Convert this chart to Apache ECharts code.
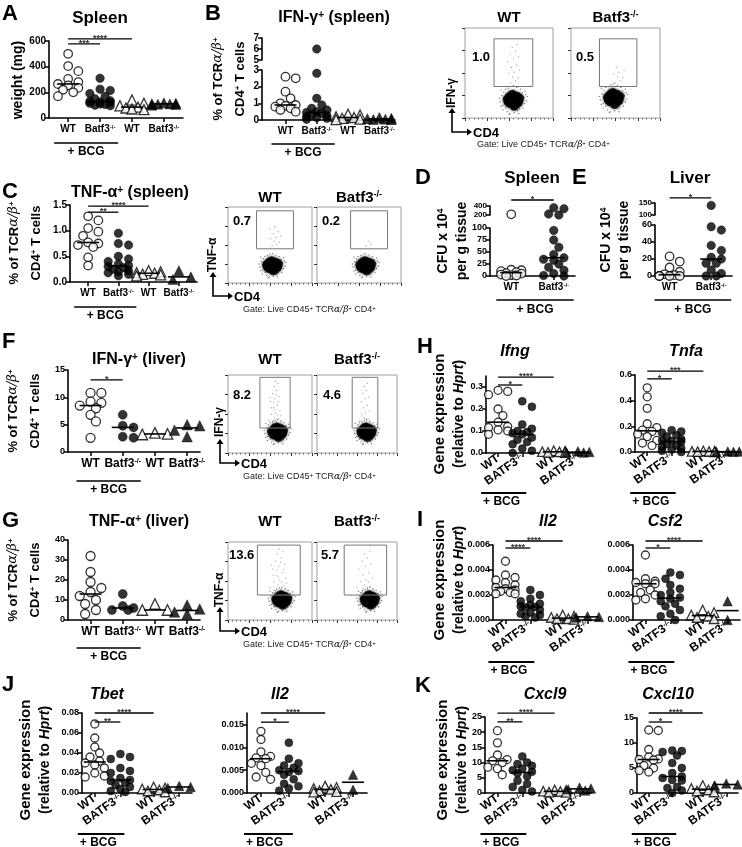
<!DOCTYPE html>
<html><head><meta charset="utf-8">
<script src="https://cdn.jsdelivr.net/npm/echarts@6.0.0/dist/echarts.min.js"></script>
<style>html,body{margin:0;padding:0;background:#fff;}#chart{width:742px;height:847px;}</style>
</head><body><div id="chart"></div>
<script>
// ================= DATA =================
const groupLabels = ['WT', 'Batf3-/-', 'WT', 'Batf3-/-'];
const geneGroupLabels = ['WT', 'BATF3-/-', 'WT', 'BATF3-/-'];
const cfuGroupLabels = ['WT', 'Batf3-/-'];

// A: spleen weight (mg)
const weightWT_BCG = [500, 405, 365, 305, 280, 265, 255, 235, 220, 200, 170];
const weightKO_BCG = [310, 225, 215, 190, 170, 150, 135, 130, 125, 120, 115, 110, 105, 100, 95];
const weightWT_naive = [140, 115, 95, 85, 78, 70, 65];
const weightKO_naive = [118, 115, 112, 110, 108, 105, 100];
// B: IFN-g+ spleen (%)
const ifngSpleenWT_BCG = [2.6, 2.5, 1.7, 1.3, 1.0, 0.9, 0.85, 0.8, 0.7, 0.6, 0.5];
const ifngSpleenKO_BCG = [6.0, 2.8, 1.3, 0.9, 0.7, 0.6, 0.5, 0.45, 0.4, 0.3, 0.25, 0.2, 0.15, 0.1, 0.05];
const ifngSpleenWT_naive = [0.35, 0.3, 0.2, 0.15, 0.1, 0.05, 0.02];
const ifngSpleenKO_naive = [0.15, 0.1, 0.08, 0.05, 0.03, 0.02];
// C: TNF-a+ spleen (%)
const tnfSpleenWT_BCG = [1.28, 1.2, 1.05, 0.98, 0.9, 0.77, 0.75, 0.72, 0.68, 0.48, 0.32];
const tnfSpleenKO_BCG = [0.95, 0.75, 0.72, 0.5, 0.45, 0.4, 0.35, 0.32, 0.3, 0.28, 0.25, 0.22, 0.2, 0.18, 0.15, 0.12];
const tnfSpleenWT_naive = [0.22, 0.2, 0.18, 0.17, 0.15, 0.14, 0.12];
const tnfSpleenKO_naive = [0.22, 0.1, 0.05];
// D, E: CFU x 10^4 per g tissue
const cfuSpleenWT = [215, 195, 13, 12, 10, 8, 6, 5, 3, 2, 1, 0];
const cfuSpleenKO = [360, 340, 220, 200, 95, 75, 60, 45, 38, 35, 33, 25, 18, 12, 5, 1, 0];
const cfuLiverWT = [23, 17, 10, 5, 2, 1, 0, 0, 0, 0];
const cfuLiverKO = [140, 58, 54, 36, 30, 22, 20, 15, 15, 7, 3, 0, 0];
// F: IFN-g+ liver (%)
const ifngLiverWT_BCG = [10.8, 10.8, 9.2, 9.0, 8.5, 8.0, 6.8, 5.6, 2.6];
const ifngLiverKO_BCG = [6.8, 4.8, 4.5, 2.8, 2.6];
const ifngLiverWT_naive = [3.5, 3.3, 3.2];
const ifngLiverKO_naive = [5.0, 4.8, 4.0, 2.8];
// G: TNF-a+ liver (%)
const tnfLiverWT_BCG = [32, 24, 19, 16, 14, 12, 10, 8, 5, 3];
const tnfLiverKO_BCG = [13, 7, 6, 5, 5];
const tnfLiverWT_naive = [8, 5, 5];
const tnfLiverKO_naive = [7.5, 5.5, 4, 3];
// H: Ifng, Tnfa
const ifngWT_BCG = [0.285, 0.28, 0.265, 0.2, 0.17, 0.14, 0.12, 0.115, 0.105, 0.1, 0.085];
const ifngKO_BCG = [0.235, 0.21, 0.13, 0.11, 0.1, 0.095, 0.09, 0.085, 0.07, 0.06, 0.05, 0.04, 0.02, 0.01, 0.0];
const ifngWT_naive = [0.01, 0.008, 0.006, 0.005, 0.003, 0.002];
const ifngKO_naive = [0.008, 0.005, 0.003, 0.002];
const tnfaWT_BCG = [0.5, 0.43, 0.34, 0.22, 0.19, 0.17, 0.16, 0.14, 0.12, 0.09, 0.07, 0.05];
const tnfaKO_BCG = [0.17, 0.16, 0.15, 0.13, 0.12, 0.1, 0.09, 0.085, 0.08, 0.06, 0.05, 0.04, 0.03, 0.02, 0.01, 0.0];
const tnfaWT_naive = [0.008, 0.006, 0.005, 0.004, 0.003, 0.002];
const tnfaKO_naive = [0.004, 0.003, 0.002, 0.001];
// I: Il2, Csf2
const il2WT_BCG = [0.0047, 0.0036, 0.0034, 0.0032, 0.003, 0.0028, 0.0026, 0.0025, 0.0024, 0.0023, 0.0022, 0.0021, 0.0021];
const il2KO_BCG = [0.0024, 0.002, 0.0017, 0.0015, 0.0013, 0.0012, 0.0011, 0.00105, 0.001, 0.0008, 0.0006, 0.0005, 0.0004, 0.0003, 0.0002];
const il2WT_naive = [0.0004, 0.0003, 0.0002, 0.0001, 0.00005, 0.0001];
const il2KO_naive = [0.0003, 0.00025, 0.0002];
const csf2WT_BCG = [0.0052, 0.0033, 0.0031, 0.003, 0.0029, 0.0029, 0.0024, 0.0022, 0.002, 0.0017, 0.0016];
const csf2KO_BCG = [0.0038, 0.0036, 0.0033, 0.0028, 0.0025, 0.0022, 0.002, 0.0018, 0.0017, 0.0015, 0.0013, 0.0011, 0.0008, 0.0005, 0.0003, 0.0];
const csf2WT_naive = [0.0008, 0.0006, 0.0004, 0.0003, 0.0002, 0.0001];
const csf2KO_naive = [0.0015, 0.0];
// J: Tbet, Il2
const tbetWT_BCG = [0.069, 0.055, 0.046, 0.04, 0.036, 0.032, 0.03, 0.028, 0.025, 0.02, 0.017, 0.016];
const tbetKO_BCG = [0.039, 0.036, 0.034, 0.025, 0.022, 0.02, 0.015, 0.013, 0.012, 0.01, 0.008, 0.006, 0.004, 0.002, 0.001];
const tbetWT_naive = [0.006, 0.005, 0.004, 0.003, 0.002, 0.001];
const tbetKO_naive = [0.007, 0.006, 0.005];
const il2bWT_BCG = [0.0135, 0.0117, 0.009, 0.008, 0.0077, 0.0075, 0.0065, 0.006, 0.0045, 0.0035, 0.003];
const il2bKO_BCG = [0.011, 0.0075, 0.0065, 0.006, 0.0055, 0.005, 0.0048, 0.0046, 0.004, 0.003, 0.002, 0.0015, 0.001, 0.0005];
const il2bWT_naive = [0.0015, 0.0012, 0.001, 0.0008, 0.0005, 0.0003, 0.0002];
const il2bKO_naive = [0.004, 0.0007];
// K: Cxcl9, Cxcl10
const cxcl9WT_BCG = [20.5, 16.5, 12.5, 11, 10.6, 10, 8.5, 8, 6];
const cxcl9KO_BCG = [12, 10, 9.5, 9, 8, 7.5, 7, 6.5, 5.5, 4, 3, 2, 1, 0.5];
const cxcl9WT_naive = [1.0, 0.8, 0.6, 0.5, 0.3, 0.2];
const cxcl9KO_naive = [1.8, 1.5, 1.2, 0.8];
const cxcl10WT_BCG = [12.6, 12.5, 8.7, 7.2, 6.8, 6.7, 6.6, 5.5, 5, 4.5, 4.2];
const cxcl10KO_BCG = [8.5, 8.4, 8.2, 7.5, 6, 5, 4, 3.3, 3, 2.6, 2.5, 1.2, 1, 0.5, 0];
const cxcl10WT_naive = [1.5, 1.2, 0.9, 0.6, 0.4, 0.2];
const cxcl10KO_naive = [1.9, 1.7, 1.5];

// Flow cytometry: gate percentages and representative events
const flowPctIFNspleen = ['1.0', '0.5'];
const flowPctTNFspleen = ['0.7', '0.2'];
const flowPctIFNliver = ['8.2', '4.6'];
const flowPctTNFliver = ['13.6', '5.7'];
const flowCoreEvents = [[0,0],[-3,-2],[3,2],[-2,3],[2,-3],[-5,0],[5,1],[0,5],[1,-5],[-4,-4],[4,4],[-4,4],[4,-4],[-6,-2],[6,-2],[-1,6],[1,-7],[-7,1],[7,2]];
const flowHaloEvents = [[-16,2],[-14,-7],[-13,5],[-12,-11],[-11,9],[-10,-3],[-9,12],[-9,-9],[-8,6],[-7,-13],[-6,13],[-6,-7],[-5,10],[-4,-15],[-3,15],[-2,-10],[-1,11],[0,16],[1,-14],[2,9],[3,-9],[4,14],[5,-12],[6,8],[7,-10],[8,12],[9,-6],[10,8],[11,-9],[12,3],[13,-4],[14,6],[15,-1],[-15,-2],[10,-1],[-11,1],[8,-3],[-8,2],[0,-9],[2,7],[-3,-6],[5,5],[-12,-6],[13,10],[-5,-16],[16,4],[6,-15],[-14,11]];
const flowGateEvents = [[0.42,0.08],[0.55,0.12],[0.48,0.2],[0.62,0.18],[0.38,0.27],[0.52,0.3],[0.66,0.34],[0.45,0.4],[0.58,0.45],[0.35,0.52],[0.5,0.58],[0.63,0.62],[0.42,0.68],[0.55,0.74],[0.47,0.82],[0.6,0.88],[0.3,0.15],[0.7,0.1],[0.4,0.05],[0.53,0.04],[0.57,0.26],[0.44,0.14],[0.49,0.36],[0.61,0.52],[0.37,0.4],[0.54,0.66],[0.46,0.5],[0.68,0.24],[0.33,0.6],[0.51,0.92]];

// ================= BUILD =================
const FONT = '"Liberation Sans", Arial, Helvetica, sans-serif';
const SERIF = '"DejaVu Serif", "Liberation Serif", serif';
const grid = [], xAxis = [], yAxis = [], series = [], graphic = [];

const OPEN_C = {symbol:'circle', itemStyle:{color:'#fff', borderColor:'#000', borderWidth:1.3}};
const FILL_C = {symbol:'circle', itemStyle:{color:'#000', borderColor:'#000', borderWidth:0.5}};
const OPEN_T = {symbol:'triangle', itemStyle:{color:'#fff', borderColor:'#000', borderWidth:1.3}};
const FILL_T = {symbol:'triangle', itemStyle:{color:'#000', borderColor:'#000', borderWidth:0.5}};
const STY4 = [OPEN_C, FILL_C, OPEN_T, FILL_T];

function median(a){const s=[...a].sort((x,y)=>x-y);const n=s.length;return n%2?s[(n-1)/2]:(s[n/2-1]+s[n/2])/2;}

function richSet(size, weight){
  const w = weight || 'bold';
  const sup = Math.max(6, Math.round(size*0.62));
  return {
    s:{fontSize:sup, fontWeight:w, fontFamily:FONT, fontStyle:'normal', verticalAlign:'top', fill:'#000', color:'#000'},
    g:{fontSize:size, fontWeight:'normal', fontFamily:SERIF, fontStyle:'italic', fill:'#000', color:'#000'},
    i:{fontSize:size, fontWeight:w, fontFamily:FONT, fontStyle:'italic', fill:'#000', color:'#000'}
  };
}
function txt(x, y, text, o){
  o = o || {};
  const size = o.size || 12, weight = o.weight || 'bold';
  graphic.push({type:'text', x:x, y:y, rotation:o.rot||0, z:100, silent:true,
    style:{text:text, fill:o.color||'#000', fontSize:size, fontWeight:weight, fontFamily:FONT,
      fontStyle:o.italic?'italic':'normal', align:o.align||'center', verticalAlign:o.va||'middle', rich:richSet(size, weight)}});
}
function gline(x1, y1, x2, y2, w){
  graphic.push({type:'line', silent:true, z:100, shape:{x1:x1, y1:y1, x2:x2, y2:y2}, style:{stroke:'#000', lineWidth:w||1.5}});
}
function supLabel(s){ return s.replace('-/-', '{s|-/-}'); }

function swarm(pys, size, maxOff){
  const n = pys.length, order = [...Array(n).keys()].sort((a,b)=>pys[b]-pys[a]);
  const placed = [], offs = new Array(n).fill(0), step = size*0.6, minD = size*0.92;
  for (const i of order){
    let best = 0, bestOv = Infinity;
    for (let k=0; k<40; k++){
      const o = (k===0 ? 0 : (k%2 ? 1 : -1)*Math.ceil(k/2))*step;
      if (Math.abs(o) > maxOff) break;
      let ov = 0;
      for (const q of placed){ const d = Math.hypot(q[0]-o, q[1]-pys[i]); if (d < minD) ov += minD-d; }
      if (ov < bestOv - 1e-9){ bestOv = ov; best = o; }
      if (ov === 0) break;
    }
    placed.push([best, pys[i]]); offs[i] = best;
  }
  return offs;
}

function xCfg(idx, x, show){
  const fs = x.fs || 10;
  return {gridIndex:idx, type:'value', min:x.min, max:x.max,
    axisLine:{show:show, onZero:false, lineStyle:{color:'#000', width:1.6}},
    axisTick:{show:show, customValues:x.pos, length:4, lineStyle:{color:'#000', width:1.5}},
    axisLabel:{show:show, customValues:x.pos, rotate:x.rotate||0, margin:x.margin||6, color:'#000',
      fontFamily:FONT, fontWeight:'bold', fontSize:fs,
      rich:{s:{fontSize:Math.round(fs*0.62), fontWeight:'bold', fontFamily:FONT, color:'#000', verticalAlign:'top'}},
      formatter:(v)=>{const k=x.pos.findIndex(p=>Math.abs(p-v)<1e-6); return k<0?'':supLabel(x.labels[k]);}},
    splitLine:{show:false}};
}
function yCfg(idx, y){
  const o = {gridIndex:idx, type:'value', min:y.min, max:y.max, interval:y.interval,
    axisLine:{show:true, onZero:false, lineStyle:{color:'#000', width:1.6}},
    axisTick:{show:true, length:4, lineStyle:{color:'#000', width:1.5}},
    axisLabel:{color:'#000', fontFamily:FONT, fontWeight:'bold', fontSize:y.fs||9, margin:3,
      formatter:(v)=>v.toFixed(y.dec||0)},
    splitLine:{show:false}};
  if (y.ticks){ o.axisTick.customValues = y.ticks; o.axisLabel.customValues = y.ticks; }
  return o;
}

function scatterPanel(c){
  const low = grid.length;
  const L = c.box[0], T = c.box[1], W = c.box[2], H = c.box[3];
  grid.push({left:L, top:T, width:W, height:H});
  xAxis.push(xCfg(low, c.x, true));
  yAxis.push(yCfg(low, c.y));
  let up = -1;
  if (c.upper){
    up = grid.length;
    grid.push({left:L, top:c.upper.top, width:W, height:c.upper.height});
    xAxis.push(xCfg(up, c.x, false));
    yAxis.push(yCfg(up, c.upper));
  }
  const pxX = W/(c.x.max-c.x.min);
  const styles = c.styles || STY4;
  c.groups.forEach((vals, gi)=>{
    const st = styles[gi];
    const segs = [{idx:low, min:c.y.min, range:c.y.max-c.y.min, h:H, vals:[]}];
    if (up >= 0) segs.push({idx:up, min:c.upper.min, range:c.upper.max-c.upper.min, h:c.upper.height, vals:[]});
    vals.forEach(v=>{ (up>=0 && v>c.y.max ? segs[1] : segs[0]).vals.push(v); });
    segs.forEach(s=>{
      if (!s.vals.length) return;
      const size = st.symbol==='triangle' ? c.size+1.5 : c.size;
      const offs = swarm(s.vals.map(v=>(v-s.min)/s.range*s.h), size, c.swarmMax||12);
      series.push({type:'scatter', xAxisIndex:s.idx, yAxisIndex:s.idx, silent:true, z:3, symbol:st.symbol,
        symbolSize:size, itemStyle:st.itemStyle, data:s.vals.map((v,k)=>[c.x.pos[gi]+offs[k]/pxX, v])});
    });
  });
  const meds = c.groups.map(v=>median(v));
  const hw = c.medHalf || 10;
  series.push({type:'custom', xAxisIndex:low, yAxisIndex:low, clip:false, silent:true, z:6,
    data:meds.map((m,gi)=>[c.x.pos[gi], m]),
    renderItem:(p, api)=>{const q=api.coord([api.value(0), api.value(1)]);
      return {type:'line', shape:{x1:q[0]-hw, y1:q[1], x2:q[0]+hw, y2:q[1]}, style:{stroke:'#000', lineWidth:1.6}};}});
  if (c.sig){
    const si = up>=0 ? up : low, sig = c.sig;
    series.push({type:'custom', xAxisIndex:si, yAxisIndex:si, clip:false, silent:true, z:6,
      data:sig.map(s=>[c.x.pos[s[0]], c.x.pos[s[1]], s[2]]),
      renderItem:(p, api)=>{
        const a = api.coord([api.value(0), api.value(2)]), b = api.coord([api.value(1), api.value(2)]);
        return {type:'group', children:[
          {type:'line', shape:{x1:a[0], y1:a[1], x2:b[0], y2:b[1]}, style:{stroke:'#000', lineWidth:1.3}},
          {type:'text', x:(a[0]+b[0])/2, y:a[1]+4, style:{text:sig[p.dataIndex][3], fill:'#333', fontSize:9,
            fontWeight:'bold', fontFamily:FONT, align:'center', verticalAlign:'bottom'}}]};
      }});
  }
  return (pos)=>L+(pos-c.x.min)*pxX;
}

function bcgLeft(px, yLine){
  const a = px(0)-14, b = px(1)+18;
  gline(a, yLine, b, yLine, 1.5);
  txt((a+b)/2, yLine+9, '+ BCG', {size:12});
}
function bcgGene(px, yLine){
  const a = px(0)-17, b = px(1)+4;
  gline(a, yLine, b, yLine, 2);
  txt(a+2, yLine+9, '+ BCG', {size:12, align:'left'});
}

function flowPlot(c){
  const idx = grid.length;
  grid.push({left:c.box[0], top:c.box[1], width:c.box[2], height:c.box[3], show:true, borderColor:'#a0a0a0', borderWidth:1, backgroundColor:'#fff'});
  xAxis.push({gridIndex:idx, type:'value', min:0, max:100, interval:25, axisLine:{show:false},
    axisTick:{show:true, length:3, lineStyle:{color:'#333', width:1}},
    minorTick:{show:true, splitNumber:5, length:1.5, lineStyle:{color:'#666'}},
    axisLabel:{show:false}, splitLine:{show:false}});
  yAxis.push({gridIndex:idx, type:'value', min:0, max:100, interval:25, axisLine:{show:false},
    axisTick:{show:true, length:3, lineStyle:{color:'#333', width:1}},
    axisLabel:{show:false}, splitLine:{show:false}});
  const g = c.gate, cx = c.center[0], cy = c.center[1], sp = c.spread || 1;
  series.push({type:'scatter', xAxisIndex:idx, yAxisIndex:idx, silent:true, symbolSize:1.3, itemStyle:{color:'#8a8a8a'},
    data:flowGateEvents.slice(0, c.nGate).map(p=>[g[0]+p[0]*(g[2]-g[0]), g[1]+p[1]*(g[3]-g[1])])});
  series.push({type:'scatter', xAxisIndex:idx, yAxisIndex:idx, silent:true, symbolSize:1.4, itemStyle:{color:'#555'},
    data:flowHaloEvents.map(p=>[cx+p[0]*sp, cy+p[1]*sp])});
  series.push({type:'scatter', xAxisIndex:idx, yAxisIndex:idx, silent:true, symbolSize:c.core||9,
    itemStyle:{color:'#000', shadowBlur:3, shadowColor:'rgba(0,0,0,0.7)'},
    data:flowCoreEvents.map(p=>[cx+p[0]*sp, cy+p[1]*sp])});
  series.push({type:'custom', xAxisIndex:idx, yAxisIndex:idx, silent:true, z:4, data:[g],
    renderItem:(p, api)=>{const a=api.coord([api.value(0), api.value(1)]), b=api.coord([api.value(2), api.value(3)]);
      return {type:'rect', shape:{x:Math.min(a[0],b[0]), y:Math.min(a[1],b[1]), width:Math.abs(b[0]-a[0]), height:Math.abs(b[1]-a[1])},
        style:{fill:'none', stroke:'#777', lineWidth:1}};}});
  txt(c.box[0]+c.box[2]/2, c.titleY, supLabel(c.title), {size:15});
  txt(c.pctPos[0], c.pctPos[1], c.pct, {size:13, align:'left'});
}
function flowArrows(x, y, up, right, ylab, yc){
  graphic.push({type:'polyline', silent:true, z:100, shape:{points:[[x, y-up+4], [x, y], [x+right-4, y]]}, style:{stroke:'#000', lineWidth:1.6, fill:'none'}});
  graphic.push({type:'polygon', silent:true, z:100, shape:{points:[[x-3.5, y-up+5], [x+3.5, y-up+5], [x, y-up]]}, style:{fill:'#000'}});
  graphic.push({type:'polygon', silent:true, z:100, shape:{points:[[x+right-5, y-3.5], [x+right-5, y+3.5], [x+right, y]]}, style:{fill:'#000'}});
  txt(x+right+1, y+1, 'CD4', {size:13, align:'left'});
  txt(x, yc, ylab, {size:12, rot:Math.PI/2});
}
function gateText(x, y){
  txt(x, y, 'Gate: Live CD45{s|+} TCR{g|α/β}{s|+} CD4{s|+}', {size:9, weight:'normal', align:'left', color:'#222'});
}

const XL = {min:-0.6, max:3.6, pos:[0,1,2,3], labels:groupLabels, fs:10};
const XG = {min:-0.5, max:3.8, pos:[0,1,2.3,3.3], labels:geneGroupLabels, fs:12, rotate:35, margin:4};

// ---------- A ----------
txt(2, 14, 'A', {size:22, align:'left'});
txt(100, 18, 'Spleen', {size:17});
txt(18, 80, 'weight (mg)', {size:14, rot:Math.PI/2});
let px = scatterPanel({box:[49,41,134,77], y:{min:0,max:600,interval:200,dec:0,fs:10}, x:XL,
  groups:[weightWT_BCG, weightKO_BCG, weightWT_naive, weightKO_naive], size:8.5, medHalf:11, swarmMax:13,
  sig:[[0,1,577,'***'],[0,2,616,'****']]});
bcgLeft(px, 143);

// ---------- B ----------
txt(205, 14, 'B', {size:22, align:'left'});
txt(334, 18, 'IFN-γ{s|+} (spleen)', {size:16});
txt(218, 79, '% of TCR{g|α/β}{s|+}', {size:13, rot:Math.PI/2});
txt(240, 79, 'CD4{s|+} T cells', {size:13, rot:Math.PI/2});
px = scatterPanel({box:[262,70,133,50], y:{min:0,max:3,interval:1,dec:0,fs:10},
  upper:{top:38,height:22,min:5,max:7,interval:1,dec:0,fs:10}, x:{min:-0.75,max:3.5,pos:[0,1,2,3],labels:groupLabels,fs:10},
  groups:[ifngSpleenWT_BCG, ifngSpleenKO_BCG, ifngSpleenWT_naive, ifngSpleenKO_naive], size:8.5, medHalf:11, swarmMax:13});
bcgLeft(px, 144);

flowPlot({box:[465,28,88,90], gate:[33,35,77,88], center:[55,20], nGate:16, title:'WT', titleY:18, pct:flowPctIFNspleen[0], pctPos:[472,57]});
flowPlot({box:[571,28,89,90], gate:[32,35,74,88], center:[48,22], nGate:8, title:'Batf3-/-', titleY:18, pct:flowPctIFNspleen[1], pctPos:[576,57]});
flowArrows(452, 132, 24, 20, 'IFN-γ', 93);
gateText(477, 145);

// ---------- C ----------
txt(2, 192, 'C', {size:22, align:'left'});
txt(130, 193, 'TNF-α{s|+} (spleen)', {size:16});
txt(14, 243, '% of TCR{g|α/β}{s|+}', {size:13, rot:Math.PI/2});
txt(36, 243, 'CD4{s|+} T cells', {size:13, rot:Math.PI/2});
px = scatterPanel({box:[70,205,127,77], y:{min:0,max:1.5,interval:0.5,dec:1,fs:10}, x:XL,
  groups:[tnfSpleenWT_BCG, tnfSpleenKO_BCG, tnfSpleenWT_naive, tnfSpleenKO_naive], size:8.5, medHalf:11, swarmMax:13,
  sig:[[0,1,1.36,'**'],[0,2,1.48,'****']]});
bcgLeft(px, 307);

flowPlot({box:[228,207,84,76], gate:[34,45,78,95], center:[53,23], nGate:11, title:'WT', titleY:198, pct:flowPctTNFspleen[0], pctPos:[233,221]});
flowPlot({box:[317,207,84,76], gate:[40,45,84,95], center:[58,23], nGate:3, title:'Batf3-/-', titleY:198, pct:flowPctTNFspleen[1], pctPos:[322,221]});
flowArrows(213, 296, 24, 20, 'TNF-α', 255);
gateText(243, 310);

// ---------- D ----------
txt(415, 178, 'D', {size:22, align:'left'});
txt(532, 178, 'Spleen', {size:17});
txt(443, 241, 'CFU x 10{s|4}', {size:14, rot:Math.PI/2});
txt(462, 241, 'per g tissue', {size:14, rot:Math.PI/2});
px = scatterPanel({box:[490,228,85,48], y:{min:0,max:100,interval:25,dec:0,fs:9},
  upper:{top:206,height:9,min:200,max:400,interval:200,dec:0,fs:8}, x:{min:-0.5,max:1.5,pos:[0,1],labels:cfuGroupLabels,fs:10},
  groups:[cfuSpleenWT, cfuSpleenKO], styles:[OPEN_C, FILL_C], size:8.5, medHalf:11, swarmMax:14,
  sig:[[0,1,533,'*']]});
(function(){const a=px(0)-15, b=px(1)+20; gline(a,300,b,300,1.5); txt((a+b)/2,310,'+ BCG',{size:12});})();

// ---------- E ----------
txt(572, 178, 'E', {size:22, align:'left'});
txt(690, 178, 'Liver', {size:17});
txt(606, 240, 'CFU x 10{s|4}', {size:14, rot:Math.PI/2});
txt(624, 240, 'per g tissue', {size:14, rot:Math.PI/2});
px = scatterPanel({box:[655,225,77,51], y:{min:0,max:60,interval:20,dec:0,fs:9},
  upper:{top:203,height:12,min:100,max:150,interval:50,dec:0,fs:8}, x:{min:-0.35,max:1.5,pos:[0,1],labels:cfuGroupLabels,fs:10},
  groups:[cfuLiverWT, cfuLiverKO], styles:[OPEN_C, FILL_C], size:8.5, medHalf:11, swarmMax:13,
  sig:[[0,1,171,'*']]});
(function(){const a=px(0)-15, b=px(1)+20; gline(a,300,b,300,1.5); txt((a+b)/2,310,'+ BCG',{size:12});})();

// ---------- F ----------
txt(2, 342, 'F', {size:22, align:'left'});
txt(139, 360, 'IFN-γ{s|+} (liver)', {size:16});
txt(13, 411, '% of TCR{g|α/β}{s|+}', {size:13, rot:Math.PI/2});
txt(35, 411, 'CD4{s|+} T cells', {size:13, rot:Math.PI/2});
px = scatterPanel({box:[68,370,132,82], y:{min:0,max:15,interval:5,dec:0,fs:9},
  x:{min:-0.7,max:3.4,pos:[0,1,2,3],labels:groupLabels,fs:12},
  groups:[ifngLiverWT_BCG, ifngLiverKO_BCG, ifngLiverWT_naive, ifngLiverKO_naive], size:9, medHalf:11, swarmMax:13,
  sig:[[0,1,13.2,'*']]});
bcgLeft(px, 481);

flowPlot({box:[228,375,84,78], gate:[38,32,74,97], center:[59,27], nGate:30, title:'WT', titleY:360, pct:flowPctIFNliver[0], pctPos:[233,395]});
flowPlot({box:[317,375,80,78], gate:[44,32,76,97], center:[62,27], nGate:20, title:'Batf3-/-', titleY:360, pct:flowPctIFNliver[1], pctPos:[323,395]});
flowArrows(220, 463, 24, 20, 'IFN-γ', 422);
gateText(243, 477);

// ---------- G ----------
txt(2, 521, 'G', {size:22, align:'left'});
txt(139, 522, 'TNF-α{s|+} (liver)', {size:16});
txt(13, 580, '% of TCR{g|α/β}{s|+}', {size:13, rot:Math.PI/2});
txt(35, 580, 'CD4{s|+} T cells', {size:13, rot:Math.PI/2});
px = scatterPanel({box:[68,540,132,80], y:{min:0,max:40,interval:10,dec:0,fs:9},
  x:{min:-0.7,max:3.4,pos:[0,1,2,3],labels:groupLabels,fs:12},
  groups:[tnfLiverWT_BCG, tnfLiverKO_BCG, tnfLiverWT_naive, tnfLiverKO_naive], size:9, medHalf:11, swarmMax:13});
bcgLeft(px, 648);

flowPlot({box:[228,542,84,78], gate:[35,32,86,96], center:[64,26], nGate:30, title:'WT', titleY:522, pct:flowPctTNFliver[0], pctPos:[229,555]});
flowPlot({box:[317,542,80,78], gate:[34,32,87,96], center:[66,26], nGate:22, title:'Batf3-/-', titleY:522, pct:flowPctTNFliver[1], pctPos:[321,555]});
flowArrows(220, 631, 24, 20, 'TNF-α', 590);
gateText(243, 645);

// ---------- Gene expression panels ----------
function geneYLabel(x, yc){
  txt(x, yc, 'Gene expression', {size:15, rot:Math.PI/2});
  txt(x+19, yc, '(relative to {i|Hprt})', {size:14, rot:Math.PI/2});
}
// H
txt(417, 347, 'H', {size:22, align:'left'});
geneYLabel(440, 414);
txt(515, 352, 'Ifng', {size:16, italic:true});
px = scatterPanel({box:[486,376,104,77], y:{min:0,max:0.35,interval:0.1,ticks:[0,0.1,0.2,0.3],dec:1,fs:9}, x:XG,
  groups:[ifngWT_BCG, ifngKO_BCG, ifngWT_naive, ifngKO_naive], size:8, medHalf:11, swarmMax:12,
  sig:[[0,1,0.309,'*'],[0,2,0.345,'****']]});
bcgGene(px, 493);
txt(686, 352, 'Tnfa', {size:16, italic:true});
px = scatterPanel({box:[635,375,105,77], y:{min:0,max:0.6,interval:0.2,dec:1,fs:9}, x:XG,
  groups:[tnfaWT_BCG, tnfaKO_BCG, tnfaWT_naive, tnfaKO_naive], size:8, medHalf:11, swarmMax:12,
  sig:[[0,1,0.57,'*'],[0,2,0.63,'***']]});
bcgGene(px, 493);
// I
txt(417, 520, 'I', {size:22, align:'left'});
geneYLabel(440, 580);
txt(548, 522, 'Il2', {size:16, italic:true});
px = scatterPanel({box:[493,545,107,75], y:{min:0,max:0.006,interval:0.002,dec:3,fs:9}, x:XG,
  groups:[il2WT_BCG, il2KO_BCG, il2WT_naive, il2KO_naive], size:8, medHalf:11, swarmMax:12,
  sig:[[0,1,0.00576,'****'],[0,2,0.00632,'****']]});
bcgGene(px, 662);
txt(665, 522, 'Csf2', {size:16, italic:true});
px = scatterPanel({box:[633,545,107,75], y:{min:0,max:0.006,interval:0.002,dec:3,fs:9}, x:XG,
  groups:[csf2WT_BCG, csf2KO_BCG, csf2WT_naive, csf2KO_naive], size:8, medHalf:11, swarmMax:12,
  sig:[[0,1,0.00576,'*'],[0,2,0.00632,'****']]});
bcgGene(px, 662);
// J
txt(2, 685, 'J', {size:22, align:'left'});
geneYLabel(26, 760);
txt(107, 695, 'Tbet', {size:16, italic:true});
px = scatterPanel({box:[82,713,110,80], y:{min:0,max:0.08,interval:0.02,dec:2,fs:9}, x:XG,
  groups:[tbetWT_BCG, tbetKO_BCG, tbetWT_naive, tbetKO_naive], size:8, medHalf:11, swarmMax:12,
  sig:[[0,1,0.071,'**'],[0,2,0.08,'****']]});
bcgGene(px, 834);
txt(280, 695, 'Il2', {size:16, italic:true});
px = scatterPanel({box:[247,713,120,80], y:{min:0,max:0.0175,interval:0.005,ticks:[0,0.005,0.01,0.015],dec:3,fs:9}, x:XG,
  groups:[il2bWT_BCG, il2bKO_BCG, il2bWT_naive, il2bKO_naive], size:8, medHalf:11, swarmMax:12,
  sig:[[0,1,0.0155,'*'],[0,2,0.0175,'****']]});
bcgGene(px, 834);
// K
txt(415, 686, 'K', {size:22, align:'left'});
geneYLabel(443, 760);
txt(545, 695, 'Cxcl9', {size:16, italic:true});
px = scatterPanel({box:[485,717,107,76], y:{min:0,max:25,interval:5,dec:0,fs:9}, x:XG,
  groups:[cxcl9WT_BCG, cxcl9KO_BCG, cxcl9WT_naive, cxcl9KO_naive], size:8, medHalf:11, swarmMax:12,
  sig:[[0,1,23.4,'**'],[0,2,26.3,'****']]});
bcgGene(px, 834);
txt(668, 695, 'Cxcl10', {size:16, italic:true});
px = scatterPanel({box:[637,718,101,75], y:{min:0,max:15,interval:5,dec:0,fs:9}, x:XG,
  groups:[cxcl10WT_BCG, cxcl10KO_BCG, cxcl10WT_naive, cxcl10KO_naive], size:8, medHalf:11, swarmMax:12,
  sig:[[0,1,14.2,'*'],[0,2,16,'****']]});
bcgGene(px, 834);

const chart = echarts.init(document.getElementById('chart'), null, {renderer:'canvas'});
chart.setOption({animation:false, backgroundColor:'#fff', textStyle:{fontFamily:FONT},
  grid:grid, xAxis:xAxis, yAxis:yAxis, series:series, graphic:{elements:graphic}});
</script>
</body></html>
